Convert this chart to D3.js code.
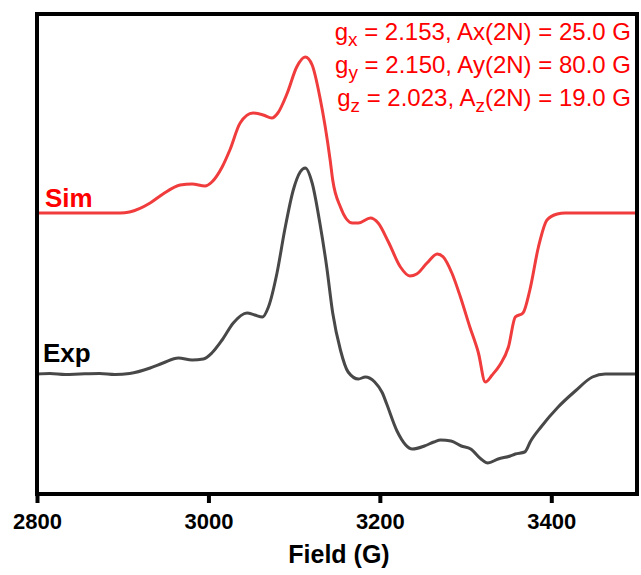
<!DOCTYPE html>
<html>
<head>
<meta charset="utf-8">
<script src="https://cdn.jsdelivr.net/npm/d3@7"></script>
<style>
  body { margin: 0; background: #fff; }
  svg text { font-family: Arial, "Liberation Sans", sans-serif; }
</style>
</head>
<body>
<div id="chart"></div>
<script>
// field values (G) and intensities (a.u.)
var simField = [2800, 2850, 2897, 2908, 2932, 2947, 2967, 2981, 2996, 3004, 3016, 3025, 3037, 3052, 3064, 3074, 3081, 3092, 3103, 3113, 3121, 3130, 3142, 3145, 3154, 3168, 3175, 3189, 3198, 3210, 3224, 3235, 3243, 3255, 3267, 3274, 3284, 3294, 3305, 3315, 3323, 3331, 3340, 3350, 3358, 3367, 3375, 3385, 3395, 3407, 3416, 3500]
var simInt = [0, 0, 0, 1, 10, 19, 28, 29, 27, 31, 46, 63, 90, 100, 98, 95, 100, 120, 146, 156, 148, 116, 53, 33, 6, -10, -10, -5, -10, -29, -54, -63, -61, -50, -41, -44, -60, -84, -114, -140, -169, -162, -152, -134, -104, -100, -77, -34, -7, -1, 0, 0]

var expField = [2800, 2815, 2833, 2850, 2873, 2891, 2908, 2932, 2947, 2965, 2981, 2994, 3004, 3016, 3029, 3045, 3054, 3063, 3070, 3080, 3089, 3099, 3107, 3113, 3121, 3130, 3138, 3145, 3154, 3163, 3175, 3183, 3194, 3203, 3208, 3220, 3238, 3252, 3263, 3271, 3283, 3295, 3306, 3318, 3326, 3338, 3352, 3358, 3369, 3376, 3388, 3408, 3428, 3448, 3463, 3480, 3499]
var expInt = [0, 0.5, -0.5, 0, 0.5, -0.5, 0.5, 6, 11, 16, 14, 15, 21, 34, 51, 61, 59, 57, 67, 101, 144, 184, 202, 206, 191, 151, 107, 61, 24, 2, -5, -3, -8, -19, -30, -57, -75, -72, -68, -66, -67, -72, -75, -85, -89, -85, -82, -80, -78, -67, -53, -33, -17, -3, 0, 0, 0]

var xTicks = [2800, 3000, 3200, 3400]
var simOffset = 281
var expOffset = 120

var params = [
  { g: 'x', gv: '2.153', a: 'x', aSub: false, av: '25.0' },
  { g: 'y', gv: '2.150', a: 'y', aSub: false, av: '80.0' },
  { g: 'z', gv: '2.023', a: 'z', aSub: true, av: '19.0' }
]

function drawChart() {
  var margin = { top: 14, right: 4, bottom: 81, left: 37 },
    W = 641, H = 575,
    width = W - margin.left - margin.right,
    height = H - margin.top - margin.bottom

  var svg = d3.select('#chart').append('svg')
    .attr('width', W).attr('height', H)

  var g = svg.append('g')
    .attr('transform', 'translate(' + margin.left + ',' + margin.top + ')')

  var x = d3.scaleLinear().domain([2800, 3500]).range([0, width])
  var y = d3.scaleLinear().domain([0, 480]).range([height, 0])

  var line = d3.line()
    .x(function (d) { return x(d[0]) })
    .y(function (d) { return y(d[1]) })
    .curve(d3.curveMonotoneX)

  var simData = simField.map(function (f, i) { return [f, simInt[i] + simOffset] })
  var expData = expField.map(function (f, i) { return [f, expInt[i] + expOffset] })

  g.append('path').datum(expData)
    .attr('fill', 'none').attr('stroke', '#484848').attr('stroke-width', 3)
    .attr('stroke-linejoin', 'round')
    .attr('d', line)

  g.append('path').datum(simData)
    .attr('fill', 'none').attr('stroke', '#f03c3c').attr('stroke-width', 3)
    .attr('stroke-linejoin', 'round')
    .attr('d', line)

  // x axis
  var xAxis = g.append('g')
    .attr('transform', 'translate(0,' + height + ')')
    .call(d3.axisBottom(x).tickValues(xTicks).tickSize(9).tickSizeOuter(0).tickPadding(10).tickFormat(d3.format('d')))
  xAxis.select('.domain').remove()
  xAxis.selectAll('line').attr('stroke', '#000').attr('stroke-width', 4)
  xAxis.selectAll('text')
    .attr('fill', '#000')
    .style('font-size', '22px').style('font-weight', 'bold')

  // frame
  g.append('rect')
    .attr('x', 0).attr('y', 0).attr('width', width).attr('height', height)
    .attr('fill', 'none').attr('stroke', '#000').attr('stroke-width', 4)

  svg.append('text')
    .attr('x', margin.left + width / 2 + 2).attr('y', 563)
    .attr('text-anchor', 'middle')
    .style('font-size', '25px').style('font-weight', 'bold')
    .text('Field (G)')

  // curve labels
  g.append('text')
    .attr('x', 8).attr('y', y(simOffset) - 6)
    .attr('fill', '#ff0000')
    .style('font-size', '26px').style('font-weight', 'bold')
    .text('Sim')
  g.append('text')
    .attr('x', 6).attr('y', y(expOffset) - 12)
    .attr('fill', '#000')
    .style('font-size', '26px').style('font-weight', 'bold')
    .text('Exp')

  // simulation parameters
  var lines = svg.selectAll('.param').data(params).enter().append('text')
    .attr('class', 'param')
    .attr('x', 631)
    .attr('y', function (d, i) { return 40 + i * 33 })
    .attr('text-anchor', 'end')
    .attr('fill', '#ff0000')
    .style('font-size', '24px')

  lines.each(function (d) {
    var t = d3.select(this)
    t.append('tspan').text('g')
    t.append('tspan').attr('dy', 6).style('font-size', '19px').text(d.g)
    t.append('tspan').attr('dy', -6).text(' = ' + d.gv + ', A')
    if (d.aSub) {
      t.append('tspan').attr('dy', 6).style('font-size', '19px').text(d.a)
      t.append('tspan').attr('dy', -6).text('(2N) = ' + d.av + ' G')
    } else {
      t.append('tspan').text(d.a + '(2N) = ' + d.av + ' G')
    }
  })
}

drawChart()
</script>
</body>
</html>
